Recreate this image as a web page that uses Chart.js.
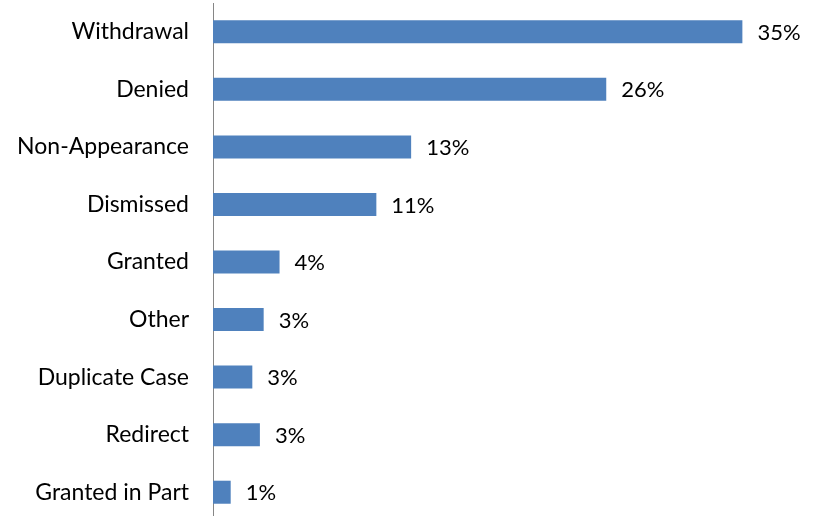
<!DOCTYPE html>
<html>
<head>
<meta charset="utf-8">
<script src="https://cdn.jsdelivr.net/npm/chart.js@4.4.1/dist/chart.umd.min.js"></script>
<style>
    html, body { margin: 0; padding: 0; background: #fff; overflow: hidden; }
    canvas { display: block; }
</style>
</head>
<body>
<canvas id="chart" width="823" height="522"></canvas>
<script>
const categories = ["Withdrawal", "Denied", "Non-Appearance", "Dismissed", "Granted", "Other", "Duplicate Case", "Redirect", "Granted in Part"],
    shares = [35.0, 26.0, 13.1, 10.8, 4.4, 3.35, 2.6, 3.1, 1.17],
    shareLabels = ["35%", "26%", "13%", "11%", "4%", "3%", "3%", "3%", "1%"];

const fontFamily = "Lato, 'Open Sans', sans-serif";

// value labels to the right of each bar
const valueLabels = {
    id: "valueLabels",
    afterDatasetsDraw(chart) {
        const ctx = chart.ctx;
        const meta = chart.getDatasetMeta(0);
        ctx.save();
        ctx.font = "22px " + fontFamily;
        ctx.fillStyle = "#000";
        ctx.textAlign = "left";
        ctx.textBaseline = "middle";
        meta.data.forEach((bar, i) => {
            ctx.fillText(shareLabels[i], bar.x + 15, bar.y + 1);
        });
        ctx.restore();
    }
};

new Chart(document.getElementById("chart"), {
    type: "bar",
    data: {
        labels: categories,
        datasets: [{
            data: shares,
            backgroundColor: "#4f81bd",
            borderWidth: 0,
            categoryPercentage: 1,
            barPercentage: 0.4,
        }]
    },
    options: {
        indexAxis: "y",
        responsive: false,
        animation: false,
        layout: {
            padding: { top: 3, right: 5, bottom: 1, left: 0 }
        },
        plugins: {
            legend: { display: false },
            tooltip: { enabled: false }
        },
        scales: {
            x: {
                display: false,
                min: 0,
                max: 40
            },
            y: {
                afterFit: (scale) => {
                    scale.width = 213;
                    // the label gap shouldn't shrink the plot vertically
                    scale.paddingTop = 0;
                    scale.paddingBottom = 0;
                },
                grid: { display: false, drawTicks: false },
                border: { display: true, color: "#868686", width: 1 },
                ticks: {
                    padding: 24,
                    color: "#000",
                    font: { family: fontFamily, size: 23 }
                }
            }
        }
    },
    plugins: [valueLabels]
});
</script>
</body>
</html>
